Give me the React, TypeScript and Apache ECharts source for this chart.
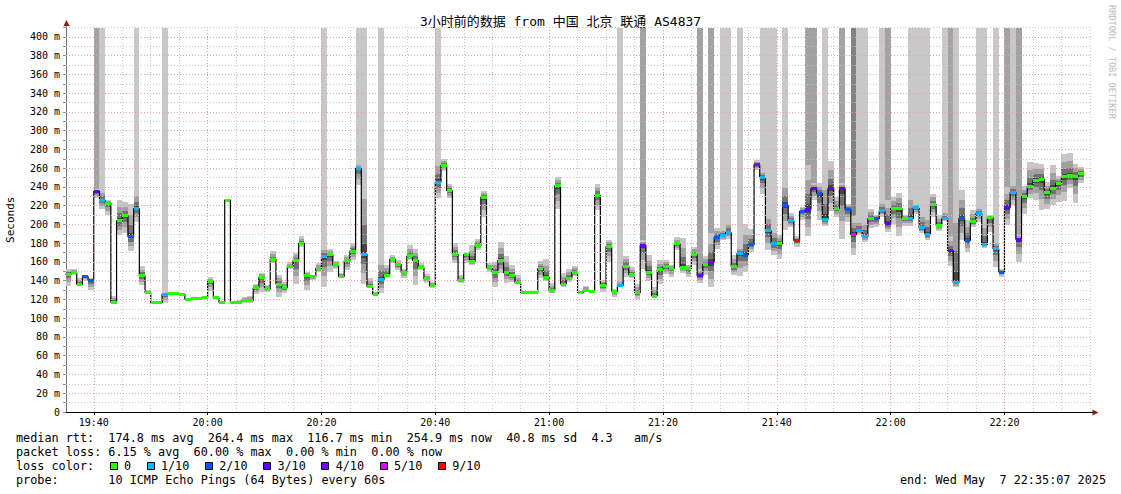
import React, { useEffect, useRef } from 'react';
import * as echarts from 'echarts';

// ------------------------------------------------------------------ data
const chartTitle = '3小时前的数据 from 中国 北京 联通 AS4837';
const firstStepMinute = 35; // first 60 s step: 19:35 (minutes counted after 19:00)
const viewStart = 35 + 7 / 60; // 19:35:07
const viewEnd = 215 + 7 / 60; // 22:35:07
const timeTickMinutes = [40, 60, 80, 100, 120, 140, 160, 180, 200];
const yMaxMs = 410;

// median RTT (ms) for every minute 19:35 .. 22:34
const medianRtt = [
  147, 149, 136.2, 144.3, 140.4, 235.4, 226.1, 222.6, 117, 204.1,
  209.4, 187, 216.9, 145.4, 127.6, 116.7, 116.7, 125.8, 126.6, 126.6,
  125.8, 120.2, 120.9, 120.9, 121.6, 139.7, 121.6, 116.8, 226.1, 117.3,
  117.3, 118.7, 118.7, 132.3, 143.6, 131.2, 162.8, 136.5, 132.3, 155.7,
  161.4, 179.9, 145.1, 144.4, 153.2, 165.7, 167.8, 156.8, 144.4, 161.4,
  171.7, 259.9, 168.5, 133.7, 125.8, 141.5, 146.1, 162.8, 157.2, 149,
  166.4, 161.8, 153.9, 141.9, 134.4, 245, 263.1, 236.1, 168.2, 140.1,
  168.2, 160.7, 177.4, 229, 153.6, 149, 161.8, 148.6, 145.1, 138,
  127.3, 127.3, 127.3, 152.9, 143.6, 129.1, 241.1, 136.5, 142.6, 149.3,
  127.3, 130.1, 128.4, 231.1, 135.1, 176.7, 128.7, 134.7, 155.7, 146.5,
  127.3, 177.8, 149.3, 123.7, 151.5, 155, 153.2, 179.2, 154.3, 153.2,
  167.8, 145.4, 157.2, 159.3, 186.3, 188.4, 191.3, 155, 169.3, 167.1,
  178.5, 263.8, 249.6, 193.4, 179.6, 179.2, 220.4, 204.1, 182.8, 214,
  216.2, 238.6, 233.2, 205.5, 238.6, 216.9, 238.6, 216.2, 189.1, 193.4,
  187, 206.2, 206.2, 214.7, 201.2, 216.9, 216.9, 206.2, 206.2, 218.3,
  196.3, 189.1, 221.2, 199.1, 206.6, 172.1, 137.9, 206.6, 182.8, 202.7,
  211.9, 178.5, 207.3, 173.9, 149.3, 217.6, 234.3, 184.2, 229.7, 240.7,
  246.8, 248.2, 233.9, 238.9, 243.6, 251, 252.5, 251.4, 254.9, null,
];

// loss colour class per minute: 0 = 0, 1 = 1/10, 2 = 2/10, 3 = 3/10, 4 = 4/10, 5 = 5/10, 6 = 9/10
const lossClass = [
  0, 0, 0, 2, 2, 3, 1, 0, 0, 0,
  0, 2, 1, 0, 0, 0, 0, 1, 0, 0,
  0, 0, 0, 0, 0, 0, 0, 0, 0, 0,
  0, 0, 0, 0, 0, 0, 0, 0, 0, 0,
  0, 0, 0, 0, 0, 1, 0, 0, 0, 0,
  0, 1, 1, 0, 0, 1, 0, 0, 0, 0,
  0, 0, 0, 0, 0, 1, 0, 0, 0, 0,
  0, 0, 0, 0, 0, 0, 0, 0, 0, 0,
  0, 0, 0, 0, 0, 0, 0, 0, 0, 0,
  0, 0, 0, 0, 0, 0, 0, 1, 0, 0,
  0, 3, 0, 0, 0, 0, 0, 0, 0, 0,
  0, 3, 0, 3, 2, 1, 1, 0, 1, 2,
  2, 4, 1, 1, 1, 0, 2, 1, 6, 2,
  3, 3, 2, 1, 3, 0, 3, 2, 5, 1,
  1, 0, 2, 1, 3, 0, 0, 0, 1, 1,
  1, 1, 0, 0, 1, 3, 1, 2, 2, 0,
  1, 1, 0, 1, 2, 3, 1, 3, 0, 0,
  0, 0, 0, 0, 0, 0, 0, 0, 0, null,
];

// full-height smoke of lost pings: 0 none, 1 light, 2 medium, 3 dark
const lossColumn = [
  0, 0, 0, 0, 0, 2, 1, 0, 0, 0,
  0, 0, 1, 0, 0, 0, 0, 1, 0, 0,
  0, 0, 0, 0, 0, 0, 0, 0, 0, 0,
  0, 0, 0, 0, 0, 0, 0, 0, 0, 0,
  0, 0, 0, 0, 0, 1, 0, 0, 0, 0,
  0, 1, 1, 0, 0, 1, 0, 0, 0, 0,
  0, 0, 0, 0, 0, 1, 0, 0, 0, 0,
  0, 0, 0, 0, 0, 0, 0, 0, 0, 0,
  0, 0, 0, 0, 0, 0, 0, 0, 0, 0,
  0, 0, 0, 0, 0, 0, 0, 1, 0, 0,
  0, 2, 0, 0, 0, 0, 0, 0, 0, 0,
  0, 2, 0, 2, 0, 1, 1, 0, 1, 0,
  0, 0, 1, 1, 1, 0, 1, 0, 0, 0,
  2, 2, 0, 1, 0, 0, 2, 0, 3, 1,
  1, 0, 0, 1, 2, 0, 0, 0, 1, 1,
  1, 1, 0, 0, 1, 2, 1, 0, 0, 0,
  1, 1, 0, 1, 0, 2, 1, 2, 0, 0,
  0, 0, 0, 0, 0, 0, 0, 0, 0, 0,
];

// lowest / highest ping of each minute (ms)
const smokeLow = [
  134, 146, 134, 140, 130, 228, 217, 210, 115, 189,
  190.5, 172, 203, 135.5, 125.5, 116, 116, 116, 125, 125,
  124.5, 119.5, 120, 120, 120.5, 129.5, 120, 115, 225.5, 116.5,
  116.5, 116.5, 116.5, 126, 127.5, 127.5, 158.5, 123, 126.5, 152.5,
  137, 176.5, 130, 140.5, 149.5, 133.5, 149.5, 153, 142.5, 151,
  162, 242, 137, 132, 124, 126.5, 144.5, 158.5, 151, 142.5,
  162, 135.5, 151, 138, 132, 228, 257.5, 228, 158.5, 138,
  158.5, 157, 173, 208.5, 149.5, 133, 148, 138, 139, 136.5,
  126.5, 126.5, 126.5, 142.5, 140, 126.5, 216, 133.5, 139, 145,
  126.5, 128.5, 126.5, 215.5, 128.5, 160.5, 123, 133.5, 144.5, 142.5,
  121, 153, 140, 122.5, 136.5, 147, 144.5, 173, 148, 143.5,
  157, 138, 146, 133, 173.5, 183, 185, 146, 145, 149.5,
  171, 258, 233, 173, 167.5, 163, 194, 197.5, 176.5, 205,
  187.5, 226, 205, 198.5, 214.5, 208.5, 185, 203, 167.5, 189,
  181.5, 196, 197, 208.5, 191.5, 201, 187.5, 198.5, 198.5, 211,
  190.5, 183, 208.5, 193.5, 204, 155.5, 133, 183, 171, 197,
  203, 174.5, 192, 154.5, 144.5, 199.5, 221, 160.5, 211, 228,
  226, 215.5, 216, 221, 224.5, 225.5, 238.5, 222.5, 244, null,
];
const smokeHigh = [
  153, 153, 142.5, 146, 142.5, 238, 237.5, 226, 123.5, 226,
  223.5, 222, 237, 155.5, 130, 117.5, 117.5, 127, 128.5, 128.5,
  127, 121, 122, 122, 123.5, 143.5, 123.5, 118, 227, 118.5,
  119, 123, 124, 137, 148.5, 135.5, 171.5, 146, 139, 159.5,
  170, 187.5, 149.5, 146, 158.5, 176.5, 173.5, 161, 148.5, 167.5,
  180, 265, 258, 142.5, 128.5, 165.5, 157, 167.5, 162, 153,
  178, 173.5, 158.5, 147, 139, 271, 270, 243, 180, 146,
  170, 178, 185, 236, 158.5, 160.5, 181.5, 166.5, 157, 146,
  128, 128, 128, 161, 163, 138, 251, 148, 153, 155.5,
  128, 134.5, 130.5, 243, 141, 183, 131.5, 141, 166.5, 154.5,
  136, 183.5, 167.5, 133.5, 162, 162, 157, 186.5, 186, 157,
  176.5, 153, 166.5, 190.5, 196, 196, 204, 167.5, 176.5, 200.5,
  195, 269, 257.5, 212.5, 197, 189, 249, 212.5, 187.5, 219,
  263.5, 244, 244, 253, 268, 229.5, 244, 222, 209, 206.5,
  206.5, 217, 210, 225.5, 226, 229.5, 234, 210, 237.5, 222.5,
  213.5, 212.5, 233, 210, 214.5, 187.5, 236, 237, 205, 215.5,
  219.5, 205, 210, 181.5, 153, 240.5, 244.5, 189, 241, 267,
  266, 265, 245.5, 263.5, 251.5, 275, 276, 265, 261, null,
];

const lossLabels = ['0', '1/10', '2/10', '3/10', '4/10', '5/10', '9/10'];
const rttStatValues = ['174.8', '264.4', '116.7', '254.9'];
const statNames = ['avg', 'max', 'min', 'now'];
const rttSd = '40.8';
const rttAmps = '4.3';
const lossStatValues = ['6.15', '60.00', '0.00', '0.00'];
const probeText = '10 ICMP Echo Pings (64 Bytes) every 60s';
const endText = 'end: Wed May  7 22:35:07 2025';
const watermark = 'RRDTOOL / TOBI OETIKER';

// ------------------------------------------------------------------ styles
const lossColors = ['#26ff00', '#00b8ff', '#0059ff', '#5e00ff', '#7e00ff', '#dd00ff', '#ff0000'];
const columnColors = ['', '#c8c8c8', '#a2a2a2', '#828282'];
const smokeShades = ['#c6c6c6', '#a0a0a0', '#717171', '#434343'];
const smokeDepth = [0, 0.35, 0.65, 0.88];
const MONO = '"DejaVu Sans Mono", "Noto Sans CJK SC", monospace';
const MAJOR = '#ee9c9c';
const MINOR = '#c6c6c6';
const FS = 11.8;
const CW = FS * 0.602;

function fmtTime(v: number) {
  const h = 19 + Math.floor(v / 60);
  const m = Math.round(v % 60);
  return `${h}:${m < 10 ? '0' + m : m}`;
}

function stepRect(api: any, cs: any, t: number, vTop: number, vBottom: number) {
  const a = api.coord([t, vTop]);
  const b = api.coord([t + 1, vBottom]);
  const x0 = Math.round(Math.max(a[0], cs.x));
  const x1 = Math.round(Math.min(b[0], cs.x + cs.width));
  const y0 = Math.round(a[1]);
  const y1 = Math.round(b[1]);
  return { x: x0, y: y0, width: Math.max(0, x1 - x0), height: Math.max(0, y1 - y0) };
}

function monoTexts(str: string, x0: number, y: number): any[] {
  const out: any[] = [];
  const re = /\S+(?: \S+)*/g;
  let m: RegExpExecArray | null;
  while ((m = re.exec(str)) !== null) {
    out.push({
      type: 'text',
      x: x0 + m.index * CW,
      y,
      silent: true,
      style: {
        text: m[0],
        fill: '#000',
        fontFamily: '"DejaVu Sans Mono", monospace',
        fontSize: FS,
        align: 'left',
        verticalAlign: 'middle',
        textAlign: 'left',
        textVerticalAlign: 'middle',
      },
    });
  }
  return out;
}

export default function App() {
  const ref = useRef<HTMLDivElement>(null);

  useEffect(() => {
    if (!ref.current) return;
    const chart = echarts.init(ref.current, undefined, { renderer: 'svg' });

    const idx = medianRtt.map((_, i) => i);
    const columnData = idx
      .filter((i) => lossColumn[i] > 0 && medianRtt[i] != null)
      .map((i) => [firstStepMinute + i, medianRtt[i], lossColumn[i]]);
    const smokeData = idx
      .filter((i) => medianRtt[i] != null)
      .map((i) => [firstStepMinute + i, medianRtt[i], smokeLow[i], smokeHigh[i]]);
    const markerData = idx
      .filter((i) => medianRtt[i] != null)
      .map((i) => [firstStepMinute + i, medianRtt[i], lossClass[i]]);
    const lineData: any[] = [];
    medianRtt.forEach((v, i) => {
      const t = firstStepMinute + i;
      if (v == null) {
        lineData.push([t, null]);
        return;
      }
      lineData.push([t, v]);
      if (medianRtt[i + 1] == null) lineData.push([t + 1, v]);
    });

    const gridLines: any[] = [];
    for (let m = 40; m <= 215; m += 5) {
      gridLines.push({ xAxis: m, lineStyle: { color: m % 20 === 0 ? MAJOR : MINOR, type: [1, 2], width: 1 } });
    }
    for (let v = 10; v <= yMaxMs; v += 10) {
      gridLines.push({ yAxis: v, lineStyle: { color: v % 20 === 0 ? MAJOR : MINOR, type: [1, 2], width: 1 } });
    }

    // legend graphics
    const graphics: any[] = [];
    const line1 =
      'median rtt:  ' +
      rttStatValues.map((v, i) => `${v} ms ${statNames[i]}`).join('  ') +
      `  ${rttSd} ms sd  ${rttAmps}   am/s`;
    const line2 = 'packet loss: ' + lossStatValues.map((v, i) => `${v} % ${statNames[i]}`).join('  ');
    const line4 = 'probe:       ' + probeText;
    graphics.push(...monoTexts(line1, 16, 438.3));
    graphics.push(...monoTexts(line2, 16, 452.3));
    graphics.push(...monoTexts('loss color:', 16, 466.2));
    graphics.push(...monoTexts(line4, 16, 480.2));
    graphics.push(...monoTexts(endText, 1106 - endText.length * CW, 480.2));
    let col = 13;
    lossLabels.forEach((lab, k) => {
      const sx = Math.round(16 + (col + 0.2) * CW);
      graphics.push({
        type: 'rect',
        silent: true,
        shape: { x: sx + 0.5, y: 462.5, width: 7, height: 7 },
        style: { fill: lossColors[k], stroke: '#000', lineWidth: 1 },
      });
      graphics.push(...monoTexts(lab, 16 + (col + 2.2) * CW, 466.2));
      col = col + 2.2 + lab.length + 2.0;
    });
    graphics.push({
      type: 'text',
      x: 560.5,
      y: 21,
      silent: true,
      style: {
        text: chartTitle,
        fill: '#000',
        fontFamily: MONO,
        fontSize: 13,
        align: 'center',
        verticalAlign: 'middle',
        textAlign: 'center',
        textVerticalAlign: 'middle',
      },
    });
    graphics.push({
      type: 'text',
      x: 1111.5,
      y: 5,
      rotation: -Math.PI / 2,
      silent: true,
      style: {
        text: watermark,
        fill: '#bcbcbc',
        fontFamily: '"DejaVu Sans Mono", monospace',
        fontSize: 8.6,
        align: 'left',
        verticalAlign: 'middle',
        textAlign: 'left',
        textVerticalAlign: 'middle',
      },
    });
    // axis arrows
    graphics.push({ type: 'line', silent: true, shape: { x1: 66.5, y1: 28, x2: 66.5, y2: 24 }, style: { stroke: '#707070', lineWidth: 1 } });
    graphics.push({ type: 'polygon', silent: true, shape: { points: [[63.5, 26], [69.5, 26], [66.5, 20]] }, style: { fill: '#8c1c1c' } });
    graphics.push({ type: 'line', silent: true, shape: { x1: 1090, y1: 412.5, x2: 1093, y2: 412.5 }, style: { stroke: '#000', lineWidth: 1 } });
    graphics.push({ type: 'polygon', silent: true, shape: { points: [[1092.5, 409.5], [1092.5, 415.5], [1098.5, 412.5]] }, style: { fill: '#8c1c1c' } });

    chart.setOption({
      animation: false,
      backgroundColor: '#ffffff',
      grid: { left: 66, right: 30.5, top: 27.6, bottom: 82, containLabel: false, outerBoundsMode: 'none' },
      xAxis: {
        type: 'value',
        min: viewStart,
        max: viewEnd,
        axisLine: { show: true, onZero: false, lineStyle: { color: '#000', width: 1 } },
        axisTick: { show: true, customValues: timeTickMinutes, length: 3, lineStyle: { color: '#000' } },
        axisLabel: {
          customValues: timeTickMinutes,
          formatter: (v: number) => fmtTime(v),
          fontFamily: '"DejaVu Sans Mono", monospace',
          fontSize: 10,
          color: '#000',
          margin: 5,
        },
        splitLine: { show: false },
      },
      yAxis: {
        type: 'value',
        min: 0,
        max: yMaxMs,
        interval: 10,
        axisLine: { show: true, lineStyle: { color: '#707070', width: 1 } },
        axisTick: { show: true, length: 3, interval: 0, lineStyle: { color: '#909090' } },
        axisLabel: {
          formatter: (v: number) => (v % 20 === 0 && v <= 400 ? (v === 0 ? '0' : `${v} m`) : ''),
          fontFamily: '"DejaVu Sans Mono", monospace',
          fontSize: 10,
          color: '#000',
          margin: 6,
        },
        splitLine: { show: false },
        name: 'Seconds',
        nameLocation: 'middle',
        nameRotate: 90,
        nameGap: 50,
        nameTextStyle: { fontFamily: '"DejaVu Sans Mono", monospace', fontSize: 11, color: '#000' },
      },
      graphic: graphics,
      series: [
        {
          type: 'custom',
          name: 'loss columns',
          z: 1,
          silent: true,
          data: columnData,
          encode: { x: 0, y: 1 },
          renderItem: (params: any, api: any) => {
            const t = api.value(0);
            const med = api.value(1);
            const c = api.value(2);
            return {
              type: 'rect',
              shape: stepRect(api, params.coordSys, t, yMaxMs, med),
              style: { fill: columnColors[c] },
            };
          },
        },
        {
          type: 'line',
          name: 'grid',
          z: 2,
          silent: true,
          data: [],
          markLine: {
            silent: true,
            animation: false,
            symbol: ['none', 'none'],
            label: { show: false },
            lineStyle: { type: [1, 2], width: 1 },
            emphasis: { disabled: true },
            data: gridLines,
          },
        },
        {
          type: 'custom',
          name: 'smoke',
          z: 3,
          silent: true,
          data: smokeData,
          encode: { x: 0, y: 1 },
          renderItem: (params: any, api: any) => {
            const t = api.value(0);
            const med = api.value(1);
            const lo = api.value(2);
            const hi = api.value(3);
            return {
              type: 'group',
              children: smokeDepth.map((f, k) => ({
                type: 'rect',
                shape: stepRect(api, params.coordSys, t, hi - (hi - med) * f, lo + (med - lo) * f),
                style: { fill: smokeShades[k] },
              })),
            };
          },
        },
        {
          type: 'line',
          name: 'median',
          z: 4,
          silent: true,
          step: 'end',
          symbol: 'none',
          showSymbol: false,
          connectNulls: false,
          data: lineData,
          lineStyle: { color: '#000', width: 1.2 },
        },
        {
          type: 'custom',
          name: 'loss colour',
          z: 5,
          silent: true,
          data: markerData,
          encode: { x: 0, y: 1 },
          renderItem: (params: any, api: any) => {
            const t = api.value(0);
            const med = api.value(1);
            const c = api.value(2);
            const r = stepRect(api, params.coordSys, t, med, med);
            const cy = api.coord([t, med])[1];
            return {
              type: 'rect',
              shape: { x: r.x, y: Math.round(cy - 1.5), width: r.width, height: 3 },
              style: { fill: lossColors[c] },
            };
          },
        },
      ],
    });

    return () => chart.dispose();
  }, []);

  return (
    <div
      ref={ref}
      style={{ position: 'absolute', left: 0, top: 0, width: 1121, height: 494, background: '#fff' }}
    />
  );
}
